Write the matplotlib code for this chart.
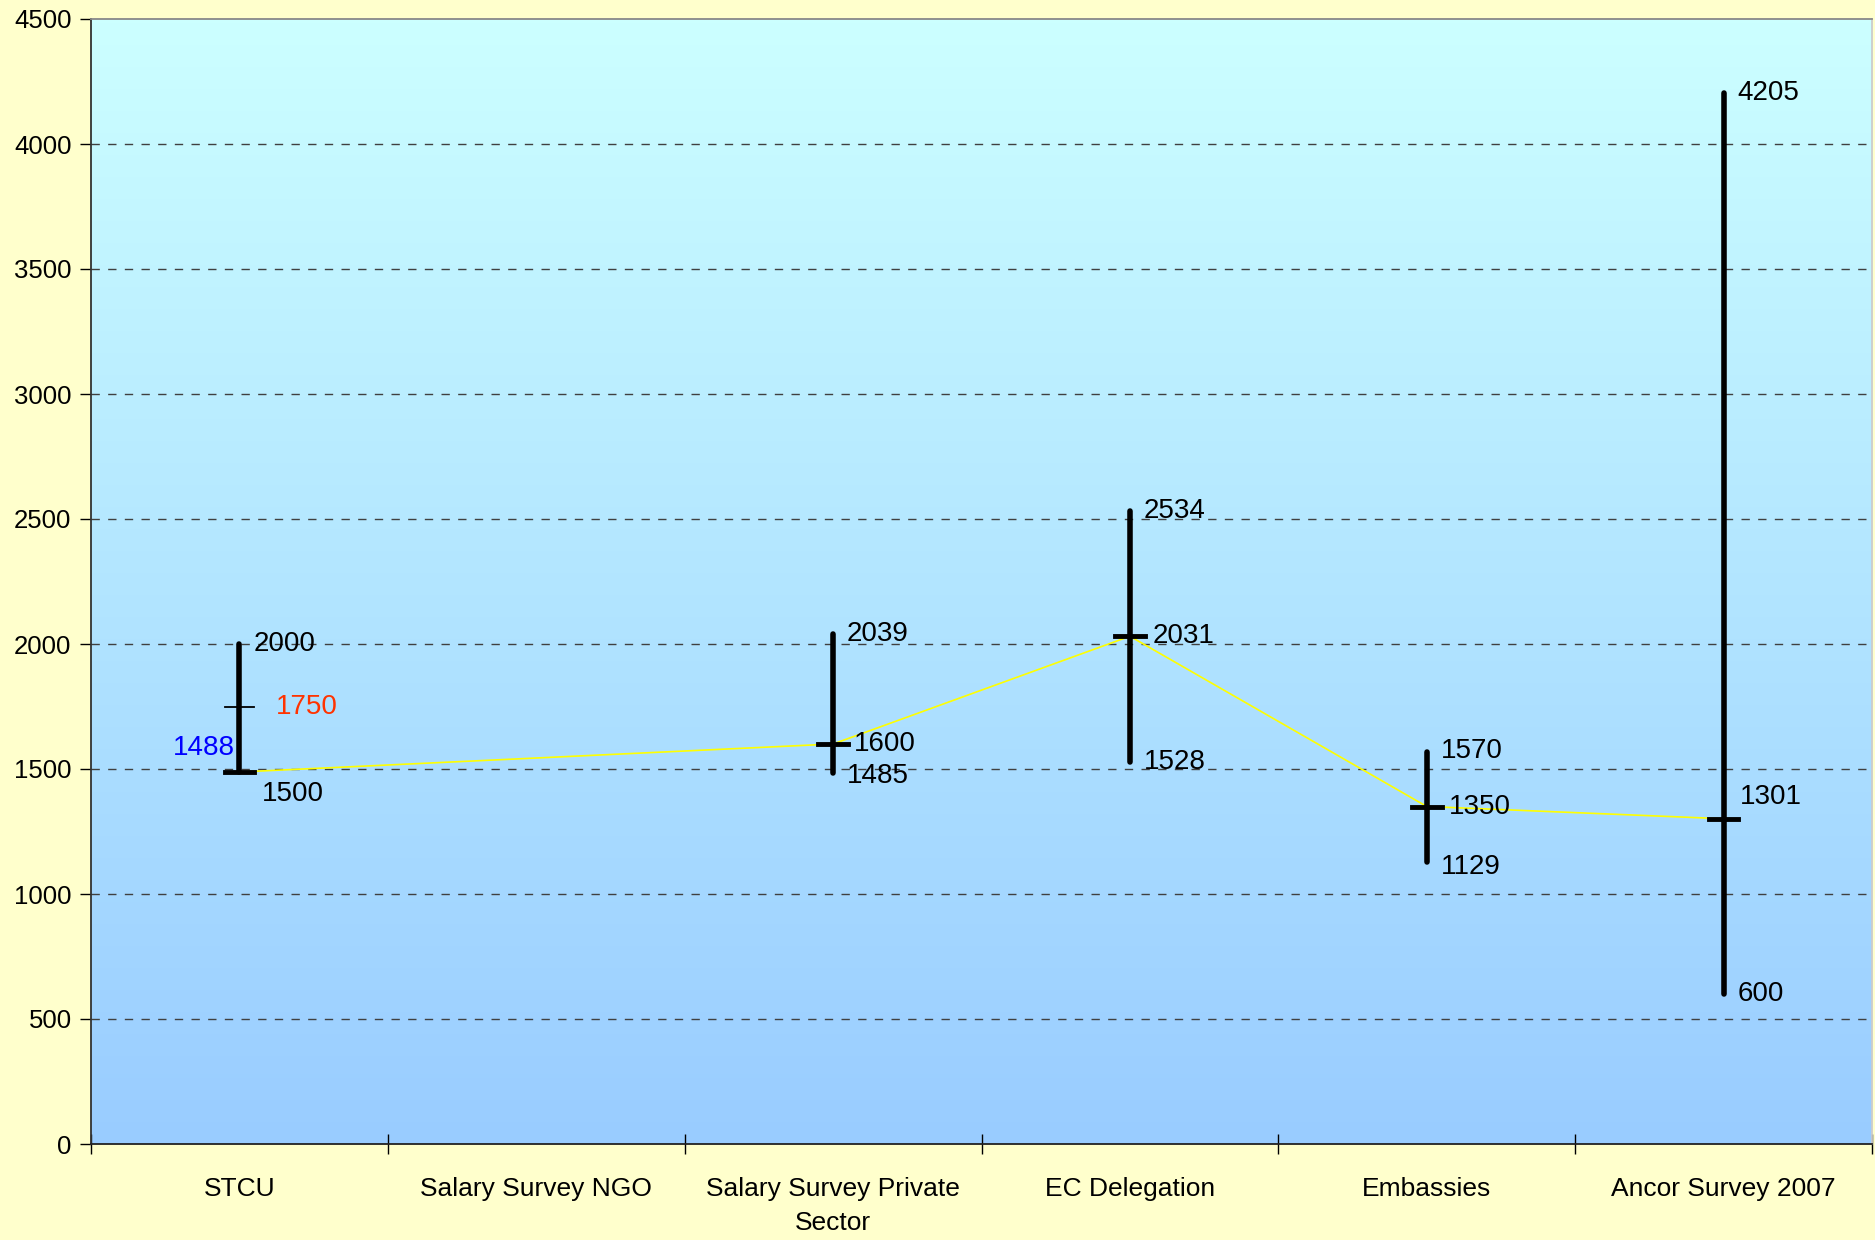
import matplotlib
matplotlib.use("Agg")
import matplotlib.pyplot as plt
import numpy as np
from matplotlib.colors import LinearSegmentedColormap

plt.rcParams['font.family'] = ['Liberation Sans', 'DejaVu Sans']

categories = ["STCU", "Salary Survey NGO", "Salary Survey Private\nSector",
              "EC Delegation", "Embassies", "Ancor Survey 2007"]
highs = [2000, np.nan, 2039, 2534, 1570, 4205]
lows = [1488, np.nan, 1485, 1528, 1129, 600]
medians = [1488, np.nan, 1600, 2031, 1350, 1301]
stcu_mark = 1750

# text offsets (points) for the value labels: (value, dx, dy)
high_lbl = [(2000, 10, 0), None, (2039, 10, 0), (2534, 10, 0), (1570, 10, 0), (4205, 10, 0)]
mid_lbl = [None, None, (1600, 15, 0), (2031, 16, 0), (1350, 16, 0), (1301, 12, 16)]
low_lbl = [(1500, 16, -16), None, (1485, 10, -2), (1528, 10, 0), (1129, 10, -4), (600, 10, 0)]

fig = plt.figure(figsize=(18.75, 12.4), dpi=100, facecolor="#FFFFCC")
ax = fig.add_axes([91 / 1875, 1 - 1144 / 1240, (1872 - 91) / 1875, (1144 - 19) / 1240])

x = np.arange(len(categories)) + 0.5

# vertical gradient background
cmap = LinearSegmentedColormap.from_list("bg", ["#99CCFF", "#CCFFFF"])
grad = np.linspace(0, 1, 256).reshape(-1, 1)
ax.imshow(grad, extent=[0, 6, 0, 4500], origin="lower", cmap=cmap, aspect="auto", zorder=0)

for yv in range(500, 4500, 500):
    ax.axhline(yv, color="#404040", lw=1.0, ls=(0, (6, 6)), zorder=1)

# line through medians
m = ~np.isnan(np.array(medians, dtype=float))
ax.plot(x[m], np.array(medians)[m], color="#FFFF00", lw=1.2, zorder=2)

for i in range(len(categories)):
    if np.isnan(highs[i]):
        continue
    ax.plot([x[i], x[i]], [lows[i], highs[i]], color="black", lw=4, solid_capstyle="round", zorder=3)
    ax.plot([x[i] - 0.05, x[i] + 0.05], [medians[i], medians[i]], color="black", lw=3.5, zorder=3)

ax.plot([x[0] - 0.05, x[0] + 0.05], [stcu_mark, stcu_mark], color="black", lw=1.3, zorder=3)
ax.annotate(str(stcu_mark), (x[0], stcu_mark), xytext=(26, 0), textcoords="offset points",
            color="#FF3300", fontsize=20, va="center", zorder=4)
ax.annotate(str(lows[0]), (x[0], medians[0]), xytext=(-48, 17), textcoords="offset points",
            color="#0000FF", fontsize=20, va="center", zorder=4)

for i in range(len(categories)):
    for lbl in (high_lbl[i], mid_lbl[i], low_lbl[i]):
        if lbl is None:
            continue
        val, dx, dy = lbl
        yref = val
        if lbl is low_lbl[i]:
            yref = lows[i]
        if lbl is mid_lbl[i]:
            yref = medians[i]
        ax.annotate(str(val), (x[i], yref), xytext=(dx, dy), textcoords="offset points",
                    fontsize=20, va="center", ha="left", zorder=4)

ax.set_xlim(0, 6)
ax.set_ylim(0, 4500)
ax.set_yticks(range(0, 4501, 500))
ax.set_xticks(x)
ax.set_xticklabels(categories, fontsize=19, va="top", linespacing=1.5)
ax.set_xticks(np.arange(0, 7), minor=True)
ax.tick_params(axis="x", which="major", length=0, pad=24)
ax.tick_params(axis="x", which="minor", direction="inout", length=14, width=1)
ax.tick_params(axis="y", direction="out", length=8, width=1, labelsize=18.5, pad=6)

ax.spines["left"].set_color("#333333")
ax.spines["bottom"].set_color("#222222")
ax.spines["top"].set_color("#888888")
ax.spines["right"].set_color("#CCCCCC")
for s in ax.spines.values():
    s.set_linewidth(1.3)

fig.savefig("out.png", dpi=100, facecolor=fig.get_facecolor())
